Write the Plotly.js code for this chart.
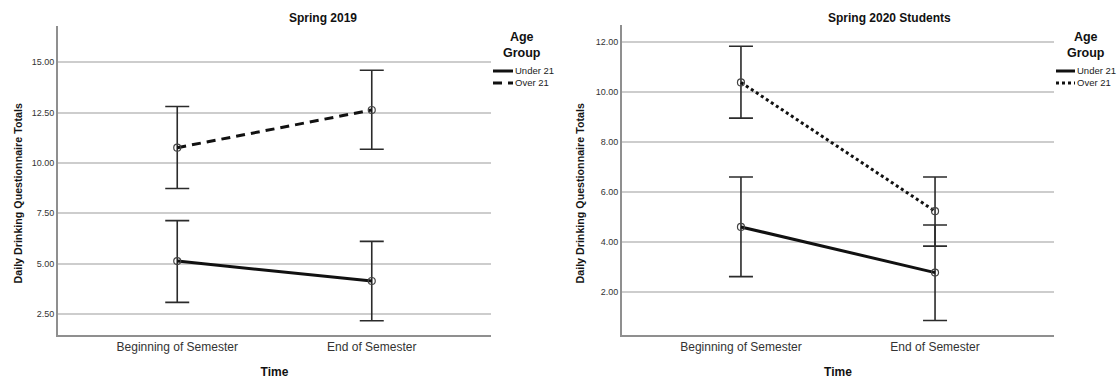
<!DOCTYPE html>
<html>
<head>
<meta charset="utf-8">
<script src="https://cdn.plot.ly/plotly-3.0.1.min.js"></script>
<style>
  html, body { margin: 0; padding: 0; background: #ffffff; }
  #chart { width: 1117px; height: 379px; }
</style>
</head>
<body>
<div id="chart"></div>
<script>
// ---- Data ----
const timePoints = ["Beginning of Semester", "End of Semester"];
const seriesNames = ["Under 21", "Over 21"];

const yTicks2019 = [2.5, 5, 7.5, 10, 12.5, 15];
const yTicks2020 = [2, 4, 6, 8, 10, 12];

// Spring 2019
const under2019Mean = [5.13, 4.14];
const under2019Low  = [3.08, 2.17];
const under2019High = [7.14, 6.11];
const over2019Mean  = [10.76, 12.63];
const over2019Low   = [8.73, 10.68];
const over2019High  = [12.80, 14.60];

// Spring 2020 Students
const under2020Mean = [4.59, 2.76];
const under2020Low  = [2.60, 0.84];
const under2020High = [6.59, 4.67];
const over2020Mean  = [10.38, 5.22];
const over2020Low   = [8.95, 3.82];
const over2020High  = [11.83, 6.59];

// ---- Styling ----
const FONT = "Liberation Sans, Arial, Helvetica, sans-serif";
const W = 1117, H = 379;
const px = v => v / W;
const py = v => 1 - v / H;

const DASH_2019 = "9px,6px";
const DASH_2020 = "3px,3px";

function errBars(mean, low, high) {
  return {
    type: "data",
    symmetric: false,
    array: high.map((h, i) => h - mean[i]),
    arrayminus: mean.map((m, i) => m - low[i]),
    color: "#2b2b2b",
    thickness: 1.6,
    width: 12
  };
}

function trace(name, mean, low, high, xa, ya, dash) {
  return {
    type: "scatter",
    mode: "lines+markers",
    name: name,
    x: timePoints,
    y: mean,
    xaxis: xa,
    yaxis: ya,
    showlegend: false,
    line: { color: "#111111", width: 3, dash: dash },
    marker: { symbol: "circle-open", size: 7, color: "#444444", line: { width: 1.2, color: "#444444" } },
    error_y: errBars(mean, low, high)
  };
}

const data = [
  trace(seriesNames[0], under2019Mean, under2019Low, under2019High, "x", "y", "solid"),
  trace(seriesNames[1], over2019Mean, over2019Low, over2019High, "x", "y", DASH_2019),
  trace(seriesNames[0], under2020Mean, under2020Low, under2020High, "x2", "y2", "solid"),
  trace(seriesNames[1], over2020Mean, over2020Low, over2020High, "x2", "y2", DASH_2020)
];

const tickFont = { family: FONT, size: 9, color: "#333333" };
const catFont = { family: FONT, size: 12, color: "#333333" };
const titleFont = { family: FONT, size: 12, color: "#111111", weight: "bold" };

function xAxis(domain, anchor) {
  return {
    domain: domain,
    anchor: anchor,
    type: "category",
    range: [-0.613, 1.613],
    showgrid: false,
    zeroline: false,
    showline: true,
    linecolor: "#8f8f8f",
    linewidth: 2,
    ticks: "",
    tickfont: catFont,
    ticklabelstandoff: 0,
    title: { text: "Time", font: titleFont, standoff: 15 },
    fixedrange: true
  };
}

function yAxis(domain, anchor, range, ticks) {
  return {
    domain: domain,
    anchor: anchor,
    range: range,
    tickvals: ticks,
    ticktext: ticks.map(v => v.toFixed(2)),
    showgrid: true,
    gridcolor: "#cdcdcd",
    gridwidth: 2,
    zeroline: false,
    showline: true,
    linecolor: "#8f8f8f",
    linewidth: 2,
    ticks: "",
    tickfont: tickFont,
    fixedrange: true
  };
}

const legendFont = { family: FONT, size: 9.5, color: "#222222" };

// Legend drawn as line samples + labels (compact SPSS-style legend)
function legendBlock(sampleX0, sampleX1, textX, titleX, overDash) {
  const shapes = [
    { type: "line", xref: "paper", yref: "paper", x0: px(sampleX0), x1: px(sampleX1), y0: py(71), y1: py(71),
      line: { color: "#111111", width: 3 } },
    { type: "line", xref: "paper", yref: "paper", x0: px(sampleX0), x1: px(sampleX1), y0: py(83), y1: py(83),
      line: { color: "#111111", width: 3, dash: overDash } }
  ];
  const anns = [
    { text: "<b>Age<br>Group</b>", x: px(titleX), y: py(44.5), xref: "paper", yref: "paper",
      xanchor: "center", yanchor: "middle", showarrow: false, align: "center",
      font: { family: FONT, size: 12.5, color: "#111111" } },
    { text: seriesNames[0], x: px(textX), y: py(71), xref: "paper", yref: "paper",
      xanchor: "left", yanchor: "middle", showarrow: false, font: legendFont },
    { text: seriesNames[1], x: px(textX), y: py(83), xref: "paper", yref: "paper",
      xanchor: "left", yanchor: "middle", showarrow: false, font: legendFont }
  ];
  return { shapes, anns };
}

const lg1 = legendBlock(493, 513, 513, 522, DASH_2019);
const lg2 = legendBlock(1056, 1075, 1075, 1086, DASH_2020);

const yTitleFont = { family: FONT, size: 10.7, color: "#151515", weight: "bold" };

const layout = {
  width: W,
  height: H,
  margin: { l: 0, r: 0, t: 0, b: 0 },
  paper_bgcolor: "#ffffff",
  plot_bgcolor: "#ffffff",
  font: { family: FONT },
  showlegend: false,
  xaxis: xAxis([px(58), px(491)], "y"),
  yaxis: yAxis([1 - 335 / H, 1 - 26 / H], "x", [1.46, 16.8], yTicks2019),
  xaxis2: xAxis([px(622), px(1054)], "y2"),
  yaxis2: yAxis([1 - 335 / H, 1 - 25 / H], "x2", [0.26, 12.68], yTicks2020),
  shapes: lg1.shapes.concat(lg2.shapes),
  annotations: [
    { text: "<b>Spring 2019</b>", x: px(323), y: py(18), xref: "paper", yref: "paper",
      xanchor: "center", yanchor: "middle", showarrow: false,
      font: { family: FONT, size: 12, color: "#111111" } },
    { text: "<b>Spring 2020 Students</b>", x: px(889), y: py(18), xref: "paper", yref: "paper",
      xanchor: "center", yanchor: "middle", showarrow: false,
      font: { family: FONT, size: 12, color: "#111111" } },
    { text: "Daily Drinking Questionnaire Totals", x: px(17.5), y: py(194), xref: "paper", yref: "paper",
      xanchor: "center", yanchor: "middle", textangle: -90, showarrow: false, font: yTitleFont },
    { text: "Daily Drinking Questionnaire Totals", x: px(579), y: py(193.5), xref: "paper", yref: "paper",
      xanchor: "center", yanchor: "middle", textangle: -90, showarrow: false, font: yTitleFont }
  ].concat(lg1.anns, lg2.anns)
};

Plotly.newPlot("chart", data, layout, { staticPlot: true, displayModeBar: false });
</script>
</body>
</html>
